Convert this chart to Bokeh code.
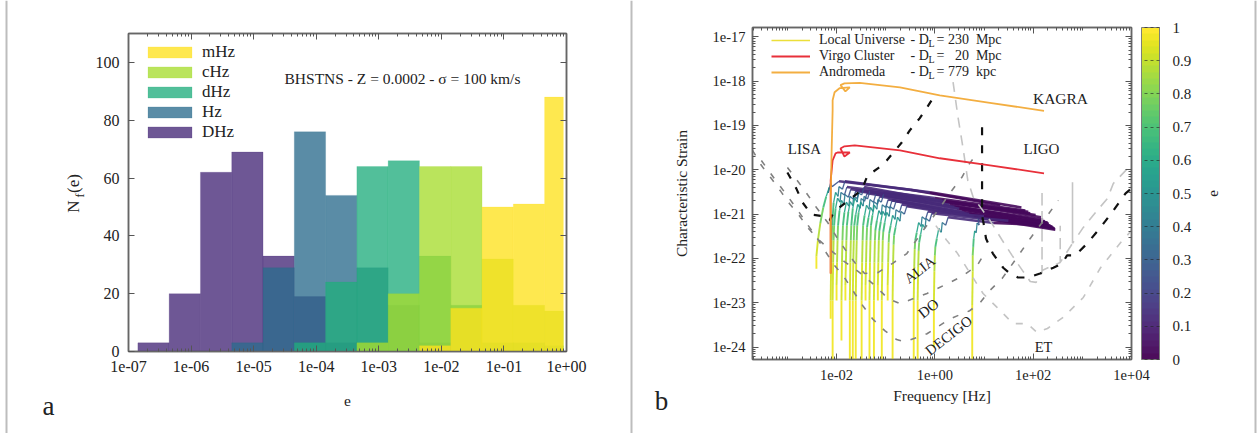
import math
from bokeh.plotting import figure
from bokeh.embed import file_html
from bokeh.resources import INLINE
from bokeh.core.properties import value
from bokeh.models import (Label, Legend, LegendItem, FixedTicker, LogAxis, LinearAxis,
                          ColorBar, LinearColorMapper, ColumnDataSource)
from bokeh.palettes import Viridis256
from bokeh.transform import transform

SERIF = "Liberation Serif"
W1, W2, H = 632, 625, 433

# ---------- panel a ----------
EDGE_LOG = [-6.85, -6.35, -5.85, -5.35, -4.85, -4.35, -3.85, -3.35, -2.85, -2.35, -1.85, -1.35, -0.85, -0.35, -0.05]
DHZ = [3, 20, 62, 69, 33, 19, 3, 0, 0, 0, 0, 0, 0, 0]
HZ = [0, 0, 0, 3, 29, 76, 54, 29, 16, 3, 0, 0, 0, 0]
DEC = [0, 0, 0, 0, 0, 3, 24, 64, 66, 33, 16, 3, 3, 2]
CHZ = [0, 0, 0, 0, 0, 0, 0, 3, 20, 64, 64, 32, 16, 14]
MHZ = [0, 0, 0, 0, 0, 0, 0, 0, 0, 2, 15, 50, 51, 88]
SERIES = [("DHz", DHZ, "#452877"), ("Hz", HZ, "#2c6c8d"), ("dHz", DEC, "#21ad7e"),
          ("cHz", CHZ, "#a7dc2e"), ("mHz", MHZ, "#fee21e")]
A_XTICKS = ["1e-07", "1e-06", "1e-05", "1e-04", "1e-03", "1e-02", "1e-01", "1e+00"]
A_YTICKS = [0, 20, 40, 60, 80, 100]

# ---------- panel b: sensitivity curves, log10(f) and log10(h) ----------
LISA_F = [-3.0, -2.82, -2.69, -2.51, -2.24, -2.14, -2.06, -1.94, -1.49, -1.37, -1.16, -0.98, -0.82, -0.67, -0.51, -0.31, -0.20, -0.04]
LISA_H = [-20.06, -20.42, -20.74, -21.01, -21.05, -21.14, -20.96, -20.85, -20.46, -20.13, -19.97, -19.79, -19.58, -19.38, -19.11, -18.84, -18.66, -18.39]
ALIA_F = [-3.0, -2.80, -2.61, -2.41, -2.18, -1.98, -1.78, -1.63, -1.43, -1.16, -0.86, -0.57, -0.24, 0.06, 0.35, 0.55, 0.71, 0.88]
ALIA_H = [-19.95, -20.24, -20.53, -20.85, -21.19, -21.55, -21.87, -22.09, -22.34, -22.32, -22.11, -21.89, -21.37, -20.92, -20.46, -20.17, -19.85, -19.61]
DO_F = [-3.71, -3.53, -3.33, -3.12, -2.96, -2.76, -2.59, -2.39, -2.14, -1.84, -1.53, -1.22, -0.96, -0.71, -0.16, 0.31, 0.57, 0.86, 1.02]
DO_H = [-19.56, -19.90, -20.19, -20.51, -20.76, -21.03, -21.30, -21.55, -21.80, -22.07, -22.32, -22.61, -22.90, -23.02, -22.79, -22.54, -22.39, -22.16, -21.87]
DECIGO_F = [-3.53, -3.27, -2.96, -2.76, -2.55, -2.39, -2.20, -2.04, -1.84, -1.63, -1.47, -1.27, -1.02, -0.78, -0.61, -0.16, 0.31, 0.71, 0.92, 1.12, 1.37, 1.67, 1.94, 2.29, 2.51]
DECIGO_H = [-19.79, -20.19, -20.65, -20.96, -21.30, -21.55, -21.89, -22.16, -22.43, -22.79, -23.06, -23.36, -23.63, -23.83, -23.88, -23.70, -23.36, -23.18, -23.00, -22.72, -22.45, -21.98, -21.55, -21.03, -20.69]
KAGRA_F = [0.37, 0.47, 0.57, 0.67, 0.78, 1.12, 1.37, 1.57, 1.78, 1.94, 2.06, 2.18, 2.18, 2.18, 2.55, 2.55, 2.55, 2.80, 2.80, 2.80, 3.02, 3.27, 3.51, 3.63, 3.92, 4.0]
KAGRA_H = [-18.02, -18.81, -19.49, -20.24, -20.62, -21.14, -21.59, -21.93, -22.27, -22.52, -22.54, -22.32, -20.46, -22.27, -22.09, -21.26, -22.09, -21.66, -20.28, -21.66, -21.30, -20.96, -20.65, -20.31, -19.97, -19.97]
ET_F = [0.02, 0.24, 0.45, 0.71, 0.98, 1.27, 1.59, 1.88, 2.08, 2.29, 2.61, 3.02, 3.37, 3.78, 4.0]
ET_H = [-21.26, -21.59, -21.87, -22.32, -22.79, -23.11, -23.47, -23.47, -23.67, -23.58, -23.33, -22.88, -22.21, -21.64, -21.37]
LIGO_F = [0.96, 0.96, 0.96, 1.0, 1.04, 1.18, 1.39, 1.53, 1.69, 1.90, 2.14, 2.41, 2.59, 2.69, 2.86, 3.10, 3.37, 3.63, 3.88, 4.0]
LIGO_H = [-19.04, -20.01, -21.03, -21.26, -21.55, -21.89, -22.21, -22.34, -22.43, -22.43, -22.34, -22.21, -22.11, -21.93, -21.93, -21.66, -21.30, -20.92, -20.53, -20.42]

# ---------- panel b: binary tracks ----------
ANDROMEDA_F = [-2.12, -2.12, -2.10, -2.08, -2.08, -2.04, -1.94, -1.73, -1.82, -1.92, -1.84, -1.53, -0.71, 0.10, 1.12, 2.22]
ANDROMEDA_H = [-22.34, -20.69, -19.56, -18.66, -18.43, -18.25, -18.16, -18.14, -18.23, -18.09, -18.05, -18.04, -18.14, -18.32, -18.49, -18.67]
VIRGO_F = [-2.12, -2.12, -2.12, -2.08, -2.02, -1.98, -1.73, -1.84, -1.92, -1.84, -1.63, -0.71, 0.10, 1.12, 2.22]
VIRGO_H = [-22.34, -20.69, -20.24, -19.79, -19.63, -19.61, -19.61, -19.70, -19.52, -19.47, -19.45, -19.56, -19.74, -19.90, -20.08]

TRACK_E = [0.98, 0.93, 0.88, 0.78, 0.68, 0.58, 0.50, 0.42, 0.35, 0.25, 0.12, 0.02, 0.0]
TRACKS_F = [
    [-2.41, -2.41, -2.38, -2.33, -2.27, -2.21, -2.15, -2.17, -2.12, -2.09, -1.95, -0.5, 1.33],
    [-2.12, -2.12, -2.11, -2.10, -2.09, -2.06, -2.02, -1.97, -1.95, -1.88, -1.83, -0.1, 1.76],
    [-2.08, -2.08, -2.07, -2.06, -2.05, -2.02, -1.98, -1.93, -1.91, -1.84, -1.79, 0.0, 1.84],
    [-2.0, -2.0, -1.99, -1.98, -1.97, -1.94, -1.90, -1.85, -1.83, -1.76, -1.71, 0.05, 1.9],
    [-1.90, -1.90, -1.89, -1.88, -1.87, -1.84, -1.80, -1.75, -1.73, -1.66, -1.61, 0.1, 1.94],
    [-1.82, -1.82, -1.81, -1.80, -1.79, -1.76, -1.72, -1.67, -1.65, -1.58, -1.53, 0.15, 2.05],
    [-1.73, -1.73, -1.72, -1.71, -1.70, -1.67, -1.63, -1.58, -1.56, -1.49, -1.44, 0.2, 2.16],
    [-1.67, -1.67, -1.66, -1.65, -1.64, -1.61, -1.57, -1.52, -1.50, -1.43, -1.38, 0.2, 2.20],
    [-1.61, -1.61, -1.60, -1.59, -1.58, -1.55, -1.51, -1.46, -1.44, -1.37, -1.32, 0.3, 2.24],
    [-1.49, -1.49, -1.48, -1.47, -1.46, -1.43, -1.39, -1.34, -1.32, -1.25, -1.20, 0.4, 2.29],
    [-1.41, -1.41, -1.40, -1.39, -1.38, -1.35, -1.31, -1.26, -1.24, -1.17, -1.12, 0.45, 2.32],
    [-1.33, -1.33, -1.32, -1.31, -1.30, -1.27, -1.23, -1.18, -1.16, -1.09, -1.04, 0.5, 2.35],
    [-1.24, -1.24, -1.23, -1.22, -1.21, -1.18, -1.14, -1.09, -1.07, -1.00, -0.95, 0.55, 2.39],
    [-1.16, -1.16, -1.15, -1.14, -1.13, -1.10, -1.06, -1.01, -0.99, -0.92, -0.87, 0.6, 2.41],
    [-1.08, -1.08, -1.07, -1.06, -1.05, -1.02, -0.98, -0.93, -0.91, -0.84, -0.79, 0.7, 2.43],
    [-0.96, -0.96, -0.95, -0.94, -0.93, -0.90, -0.86, -0.81, -0.79, -0.72, -0.67, 0.75, 2.44],
    [-0.86, -0.86, -0.85, -0.84, -0.83, -0.80, -0.76, -0.71, -0.69, -0.62, -0.57, 0.8, 2.45],
    [-0.43, -0.43, -0.42, -0.41, -0.40, -0.37, -0.33, -0.28, -0.26, -0.19, -0.14, 1.0, 2.30],
    [-0.35, -0.35, -0.34, -0.33, -0.32, -0.29, -0.25, -0.20, -0.18, -0.11, -0.06, 1.1, 2.35],
    [-0.02, -0.02, -0.01, 0.0, 0.01, 0.04, 0.08, 0.13, 0.15, 0.22, 0.27, 1.2, 2.2],
    [0.76, 0.76, 0.77, 0.77, 0.78, 0.79, 0.81, 0.84, 0.86, 0.9, 0.88, 1.5, 2.2],
]
TRACKS_H = [
    [-22.23, -21.95, -21.6, -21.2, -20.85, -20.6, -20.4, -20.52, -20.3, -20.38, -20.26, -20.45, -20.80],
    [-23.36, -22.95, -22.09, -21.59, -21.26, -20.74, -20.51, -20.60, -20.38, -20.44, -20.26, -20.51, -20.85],
    [-24.5, -22.95, -22.09, -21.59, -21.26, -20.87, -20.64, -20.73, -20.51, -20.57, -20.39, -20.64, -20.92],
    [-22.95, -22.6, -22.09, -21.59, -21.26, -20.92, -20.69, -20.78, -20.56, -20.62, -20.44, -20.68, -20.95],
    [-23.85, -22.95, -22.09, -21.59, -21.26, -20.96, -20.73, -20.82, -20.60, -20.66, -20.48, -20.72, -20.98],
    [-22.95, -22.6, -22.09, -21.59, -21.26, -20.95, -20.72, -20.81, -20.59, -20.65, -20.47, -20.70, -21.02],
    [-24.5, -22.95, -22.09, -21.59, -21.26, -20.87, -20.64, -20.73, -20.51, -20.57, -20.39, -20.72, -21.07],
    [-24.5, -22.95, -22.09, -21.59, -21.26, -21.01, -20.78, -20.87, -20.65, -20.71, -20.53, -20.80, -21.12],
    [-24.5, -22.95, -22.09, -21.59, -21.26, -20.96, -20.73, -20.82, -20.60, -20.66, -20.48, -20.79, -21.16],
    [-24.5, -22.95, -22.09, -21.59, -21.26, -21.03, -20.80, -20.89, -20.67, -20.73, -20.55, -20.84, -21.19],
    [-22.95, -22.6, -22.09, -21.59, -21.30, -21.08, -20.85, -20.94, -20.72, -20.78, -20.60, -20.88, -21.22],
    [-24.5, -22.95, -22.09, -21.59, -21.26, -21.03, -20.80, -20.89, -20.67, -20.73, -20.55, -20.88, -21.26],
    [-24.5, -22.95, -22.09, -21.59, -21.36, -21.15, -20.92, -21.01, -20.79, -20.85, -20.67, -20.95, -21.28],
    [-22.95, -22.6, -22.09, -21.59, -21.38, -21.17, -20.94, -21.03, -20.81, -20.87, -20.69, -20.97, -21.30],
    [-24.5, -22.95, -22.09, -21.59, -21.40, -21.19, -20.96, -21.05, -20.83, -20.89, -20.71, -21.0, -21.32],
    [-22.95, -22.6, -22.09, -21.64, -21.44, -21.26, -21.03, -21.12, -20.90, -20.96, -20.78, -21.03, -21.33],
    [-24.5, -22.95, -22.09, -21.69, -21.48, -21.30, -21.07, -21.16, -20.94, -21.0, -20.82, -21.06, -21.35],
    [-24.5, -22.95, -22.19, -21.79, -21.60, -21.42, -21.19, -21.28, -21.06, -21.12, -20.94, -21.05, -21.20],
    [-24.5, -22.95, -22.19, -21.83, -21.64, -21.46, -21.23, -21.32, -21.10, -21.16, -20.98, -21.12, -21.28],
    [-24.01, -23.05, -22.29, -21.93, -21.74, -21.55, -21.32, -21.41, -21.19, -21.25, -21.07, -21.2, -21.25],
    [-24.5, -23.05, -22.29, -21.93, -21.74, -21.55, -21.38, -21.42, -21.2, -21.25, -21.09, -21.15, -21.25],
]
B_XTICKS = ["1e-02", "1e+00", "1e+02", "1e+04"]
B_YTICKS = ["1e-17", "1e-18", "1e-19", "1e-20", "1e-21", "1e-22", "1e-23", "1e-24"]
CB_TICKS = [0, 0.1, 0.2, 0.3, 0.4, 0.5, 0.6, 0.7, 0.8, 0.9, 1]


def pow10(vals):
    return [10.0 ** v for v in vals]


def put(p, off, x, y, text, size=15, angle=0.0, align="center", color="#222222"):
    p.add_layout(Label(x=x - off, y=y, x_units="canvas", y_units="canvas", text=text, angle=angle,
                       text_font=SERIF, text_font_size=f"{size}px", text_align=align,
                       text_baseline="middle", text_color=color, level="overlay"))


def style_axis(ax, size):
    ax.major_label_text_font = SERIF
    ax.major_label_text_font_size = f"{size}px"
    ax.major_label_text_color = "#222222"
    ax.axis_line_color = "#666666"
    ax.axis_line_width = 1.5
    ax.major_tick_line_color = "#555555"
    ax.minor_tick_line_color = "#555555"
    ax.major_tick_in = 6
    ax.major_tick_out = 0
    ax.minor_tick_in = 3
    ax.minor_tick_out = 0
    ax.axis_label_text_font = SERIF
    ax.axis_label_text_font_style = "normal"
    ax.axis_label_text_color = "#222222"


def mirror(ax, ticks):
    style_axis(ax, 1)
    ax.major_label_overrides = {t: "" for t in ticks}
    ax.major_label_standoff = 0


# ===== panel a =====
pa = figure(width=W1, height=H, output_backend="svg", toolbar_location=None, x_axis_type="log",
            x_range=(1e-7, 1.0), y_range=(0, 110), min_border_left=128, min_border_right=W1 - 566,
            min_border_top=33, min_border_bottom=H - 351, outline_line_color="#666666",
            outline_line_width=1.5, styles={"position": "absolute", "left": "0px", "top": "0px"})
pa.grid.visible = False
left_e = pow10(EDGE_LOG[:-1])
right_e = pow10(EDGE_LOG[1:])
rends = {}
for name, vals, col in SERIES:
    src = ColumnDataSource(dict(l=[a for a, v in zip(left_e, vals) if v], r=[b for b, v in zip(right_e, vals) if v],
                                t=[v for v in vals if v], b=[0 for v in vals if v]))
    rends[name] = pa.quad(left="l", right="r", top="t", bottom="b", source=src, fill_color=col, fill_alpha=0.78,
                          line_color=col, line_alpha=0.2, line_width=1)
xt_a = [float(s) for s in A_XTICKS]
minor_a = [k * 10.0 ** d for d in range(-7, 0) for k in range(2, 10)]
tick_a = FixedTicker(ticks=xt_a, minor_ticks=minor_a)
below_a, left_a = pa.below[0], pa.left[0]
below_a.ticker = tick_a
below_a.major_label_overrides = {float(s): s for s in A_XTICKS}
left_a.ticker = FixedTicker(ticks=A_YTICKS)
style_axis(below_a, 16)
style_axis(left_a, 16)
below_a.major_label_standoff = 9
left_a.major_label_standoff = 9
above_a = LogAxis(ticker=tick_a)
right_a = LinearAxis(ticker=FixedTicker(ticks=A_YTICKS))
mirror(above_a, xt_a)
mirror(right_a, A_YTICKS)
pa.add_layout(above_a, "above")
pa.add_layout(right_a, "right")
below_a.axis_label = "e"
below_a.axis_label_text_font_size = "15.5px"
below_a.axis_label_standoff = 21
leg = Legend(items=[LegendItem(label=n, renderers=[rends[n]]) for n in ["mHz", "cHz", "dHz", "Hz", "DHz"]],
             location=(14, 209), background_fill_alpha=0, border_line_color=None, padding=0, margin=0,
             glyph_width=55, glyph_height=14, spacing=0, label_height=20, label_standoff=5,
             label_text_font=SERIF, label_text_font_size="17px", label_text_color="#222222")
pa.add_layout(leg)
put(pa, 0, 284, 78, "BHSTNS - Z = 0.0002 - σ = 100 km/s", 15.5, align="left")

# ===== panel b =====
pb = figure(width=W2, height=H, output_backend="svg", toolbar_location=None, x_axis_type="log", y_axis_type="log",
            x_range=(10 ** -3.71, 1e4), y_range=(10 ** -24.28, 10 ** -16.79), min_border_left=752 - W1,
            min_border_right=W1 + W2 - 1131, min_border_top=27, min_border_bottom=H - 359,
            outline_line_color="#666666", outline_line_width=1.5,
            styles={"position": "absolute", "left": f"{W1}px", "top": "0px"})
pb.grid.visible = False
mapper = LinearColorMapper(palette=Viridis256, low=0, high=1)

xs, ys, es, ws = [], [], [], []
for tf, th in zip(TRACKS_F, TRACKS_H):
    for i in range(len(tf) - 1):
        xs.append(pow10(tf[i:i + 2]))
        ys.append(pow10(th[i:i + 2]))
        es.append(TRACK_E[i])
        ws.append(1.9 if i < 5 else (1.3 if i < 10 else 2.6))
pb.multi_line(xs="xs", ys="ys", source=ColumnDataSource(dict(xs=xs, ys=ys, e=es, w=ws)),
              line_color=transform("e", mapper), line_width="w", line_alpha=0.9)

curves = [(ET_F, ET_H, "#c4c4c4", 1.6, "7 9"), (KAGRA_F, KAGRA_H, "#c4c4c4", 1.6, "10 8"),
          (ALIA_F, ALIA_H, "#808080", 1.6, "6 10"), (DO_F, DO_H, "#808080", 1.6, "6 10"),
          (DECIGO_F, DECIGO_H, "#808080", 1.6, "6 10"), (LISA_F, LISA_H, "#111111", 2.2, "7 10"),
          (LIGO_F, LIGO_H, "#111111", 2.2, "8 10")]
for cf, ch, col, lw, dash in curves:
    pb.line(pow10(cf), pow10(ch), line_color=col, line_width=lw, line_dash=dash)

r_virgo = pb.line(pow10(VIRGO_F), pow10(VIRGO_H), line_color="#e8303a", line_width=1.8)
r_and = pb.line(pow10(ANDROMEDA_F), pow10(ANDROMEDA_H), line_color="#f2a52c", line_width=1.8, line_alpha=0.9)
r_loc = pb.line([1e-30, 1e-30], [1e-30, 1e-30], line_color="#ecdf3a", line_width=1.3)

xt_b = [float(s) for s in B_XTICKS]
yt_b = [float(s) for s in B_YTICKS]
tick_bx = FixedTicker(ticks=xt_b, minor_ticks=[k * 10.0 ** d for d in range(-4, 4) for k in range(2, 10)] + [1e-3, 1e-1, 1e1, 1e3])
tick_by = FixedTicker(ticks=yt_b, minor_ticks=[k * 10.0 ** d for d in range(-25, -17) for k in range(2, 10)])
below_b, left_b = pb.below[0], pb.left[0]
below_b.ticker = tick_bx
left_b.ticker = tick_by
below_b.major_label_overrides = {float(s): s for s in B_XTICKS}
left_b.major_label_overrides = {float(s): s for s in B_YTICKS}
style_axis(below_b, 14.5)
style_axis(left_b, 14.5)
below_b.major_label_standoff = 10
left_b.major_label_standoff = 7
above_b = LogAxis(ticker=tick_bx)
right_b = LogAxis(ticker=tick_by)
mirror(above_b, xt_b)
mirror(right_b, yt_b)
pb.add_layout(above_b, "above")
pb.add_layout(right_b, "right")
below_b.axis_label = "Frequency [Hz]"
below_b.axis_label_text_font_size = "15.5px"
below_b.axis_label_standoff = 4
left_b.axis_label = "Characteristic Strain"
left_b.axis_label_text_font_size = "15.5px"
left_b.axis_label_standoff = 19

bar_mapper = LinearColorMapper(palette=Viridis256[::5], low=0, high=1)
cb = ColorBar(color_mapper=bar_mapper, ticker=FixedTicker(ticks=CB_TICKS), width=18, margin=0, padding=0,
              location=(10, 0),
              major_label_text_font=SERIF, major_label_text_font_size="15px", major_label_text_color="#222222",
              major_tick_line_color="#222222", major_tick_line_alpha=0.6, major_tick_in=18, major_tick_out=0,
              major_tick_line_dash="3 3", bar_line_color="#777777", label_standoff=13, scale_alpha=0.95)
pb.add_layout(cb, "right")

leg2 = Legend(items=[LegendItem(label="Local Universe", renderers=[r_loc]),
                     LegendItem(label="Virgo Cluster", renderers=[r_virgo]),
                     LegendItem(label="Andromeda", renderers=[r_and])],
              location=(19, 279), background_fill_alpha=0, border_line_color=None, padding=0, margin=0,
              glyph_width=39, glyph_height=16, spacing=0, label_height=16, label_standoff=9,
              label_text_font=SERIF, label_text_font_size="14px", label_text_color="#222222")
pb.add_layout(leg2)
O = W1
for yy, tail in [(39, "= 230\u00a0\u00a0Mpc"), (55, "=\u00a0\u00a0\u00a020\u00a0\u00a0Mpc"), (71, "= 779\u00a0\u00a0kpc")]:
    put(pb, O, 910, yy, "- D", 14, align="left")
    put(pb, O, 928, yy + 4, "L", 10, align="left")
    put(pb, O, 936, yy, tail, 14, align="left")
put(pb, O, 1060, 98, "KAGRA", 15.5)
put(pb, O, 804, 148, "LISA", 15)
put(pb, O, 1041, 148, "LIGO", 15)
put(pb, O, 919, 269, "ALIA", 14.5, math.radians(38))
put(pb, O, 928, 308, "DO", 15, math.radians(38))
put(pb, O, 948, 335, "DECIGO", 14.5, math.radians(38))
put(pb, O, 1043, 346, "ET", 14.5)

# ===== transparent sheet over the whole page for the texts and rules outside the plot frames =====
sheet = figure(width=W1 + W2, height=H, output_backend="svg", toolbar_location=None, x_range=(0, W1 + W2),
               y_range=(H, 0), x_axis_location=None, y_axis_location=None, min_border=0,
               outline_line_color=None, background_fill_color=None, border_fill_color=None,
               styles={"position": "absolute", "left": "0px", "top": "0px", "pointer-events": "none"})
sheet.grid.visible = False
sheet.quad(left=[5, 630, 1254], right=[7, 632, 1256], top=[0, 0, 0], bottom=[H, H, H],
           fill_color="#bdbdbd", line_color=None)
OUTSIDE = [(73, 206, "N", 17, math.pi / 2), (79, 195, "f", 12, math.pi / 2), (73, 183, "(e)", 17, math.pi / 2),
           (48, 405, "a", 27, 0.0), (661, 400, "b", 27, 0.0), (1212, 193, "e", 15, math.pi / 2)]
for x, y, t, s, a in OUTSIDE:
    sheet.text(x=[x], y=[y], text=[t], angle=a, text_font=value(SERIF), text_font_size=f"{s}px",
               text_align="center", text_baseline="middle", text_color="#222222")

open("out.html", "w").write(file_html([pa, pb, sheet], INLINE))
